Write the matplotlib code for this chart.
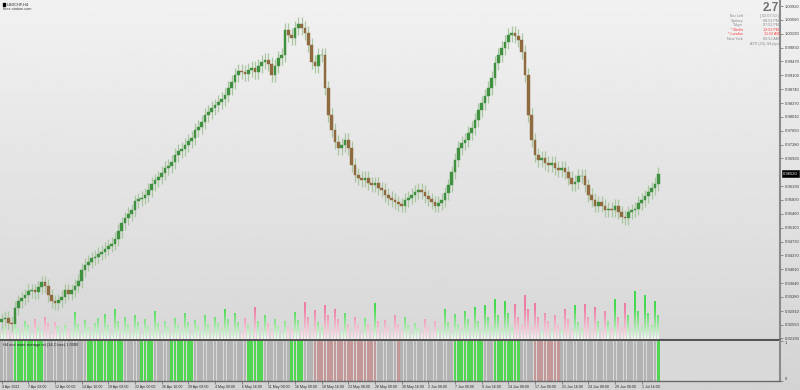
import numpy as np
import matplotlib
matplotlib.use("Agg")
import matplotlib.pyplot as plt
from matplotlib.colors import LinearSegmentedColormap
from matplotlib.path import Path

W, H = 800, 390
FONT = ["Liberation Sans", "DejaVu Sans"]

# ---------------- data (8-hour candles, USDCHF) ----------------
first_open = 0.9262
closes = [
    0.9269, 0.9272, 0.9259, 0.9256, 0.9298, 0.9316,
    0.9324, 0.9332, 0.9343, 0.9345, 0.9340, 0.9353,
    0.9366, 0.9356, 0.9332, 0.9316, 0.9311, 0.9319,
    0.9329, 0.9345, 0.9337, 0.9345, 0.9358, 0.9369,
    0.9398, 0.9413, 0.9421, 0.9429, 0.9434, 0.9442,
    0.9447, 0.9455, 0.9463, 0.9468, 0.9481, 0.9502,
    0.9521, 0.9534, 0.9545, 0.9555, 0.9579, 0.9584,
    0.9589, 0.9595, 0.9608, 0.9624, 0.9634, 0.9642,
    0.9653, 0.9666, 0.9671, 0.9682, 0.9700, 0.9711,
    0.9716, 0.9727, 0.9737, 0.9745, 0.9766, 0.9774,
    0.9787, 0.9805, 0.9813, 0.9824, 0.9831, 0.9839,
    0.9847, 0.9858, 0.9876, 0.9892, 0.9910, 0.9921,
    0.9918, 0.9913, 0.9924, 0.9929, 0.9918, 0.9934,
    0.9945, 0.9950, 0.9940, 0.9911, 0.9934, 0.9955,
    0.9963, 1.0029, 1.0016, 1.0008, 1.0034, 1.0045,
    1.0034, 1.0021, 0.9990, 0.9945, 0.9934, 0.9963,
    0.9963, 0.9876, 0.9805, 0.9766, 0.9734, 0.9719,
    0.9727, 0.9740, 0.9719, 0.9674, 0.9648, 0.9640,
    0.9634, 0.9640, 0.9626, 0.9621, 0.9626, 0.9613,
    0.9608, 0.9595, 0.9587, 0.9582, 0.9576, 0.9571,
    0.9568, 0.9582, 0.9589, 0.9595, 0.9603, 0.9608,
    0.9603, 0.9592, 0.9584, 0.9576, 0.9568, 0.9574,
    0.9582, 0.9600, 0.9621, 0.9655, 0.9687, 0.9719,
    0.9732, 0.9740, 0.9758, 0.9771, 0.9792, 0.9818,
    0.9837, 0.9855, 0.9876, 0.9903, 0.9942, 0.9963,
    0.9981, 0.9997, 1.0016, 1.0021, 1.0013, 1.0003,
    0.9971, 0.9910, 0.9805, 0.9740, 0.9700, 0.9687,
    0.9692, 0.9679, 0.9674, 0.9679, 0.9666, 0.9661,
    0.9666, 0.9655, 0.9640, 0.9624, 0.9629, 0.9645,
    0.9645, 0.9621, 0.9595, 0.9582, 0.9568, 0.9576,
    0.9568, 0.9555, 0.9560, 0.9555, 0.9568, 0.9550,
    0.9539, 0.9534, 0.9550, 0.9555, 0.9560, 0.9574,
    0.9582, 0.9592, 0.9603, 0.9613, 0.9624, 0.9652,
]
volumes = [
    6, 12, 9, 5, 15, 11,   7, 18, 14, 6, 20, 12,   8, 22, 16, 5, 17, 13,
    7, 14, 10, 9, 27, 15,  6, 19, 12, 8, 16, 21,   7, 25, 14, 6, 30, 18,
    9, 22, 15, 7, 24, 17,  5, 20, 13, 8, 28, 16,   6, 18, 12, 7, 21, 14,
    9, 26, 17, 6, 19, 13,  8, 24, 15, 7, 22, 16,   10, 30, 20, 8, 26, 17,
    6, 21, 14, 9, 32, 18,  7, 24, 16, 8, 20, 13,   6, 18, 12, 10, 27, 19,
    8, 37, 22, 9, 29, 17,  12, 34, 24, 10, 30, 20, 8, 26, 15, 7, 22, 14,
    6, 21, 15, 8, 36, 18,  7, 19, 12, 6, 24, 15,   8, 22, 14, 5, 16, 11,
    6, 20, 12, 7, 18, 10,  9, 30, 17, 6, 25, 15,   8, 28, 20, 10, 32, 18,
    9, 34, 22, 12, 40, 24, 10, 38, 26, 12, 35, 22, 14, 44, 30, 12, 36, 22,
    8, 26, 18, 7, 24, 14,  9, 30, 20, 8, 34, 17,   10, 35, 22, 9, 32, 18,
    8, 28, 18, 10, 40, 22, 12, 36, 24, 10, 48, 28, 12, 44, 26, 14, 38, 24,
]
# "one more average rsi" state runs: up / neutral / down
state_codes = ["n", "up", "n", "up", "n", "up", "n", "up", "n", "up", "n", "up",
               "n", "dn", "n", "dn", "n", "up", "n", "up", "n", "dn", "n", "up"]
state_lens = [4, 9, 13, 11, 5, 4, 5, 7, 16, 5, 8, 4,
              3, 19, 6, 1, 16, 9, 3, 8, 4, 8, 29, 1]

price_ticks = [1.00920, 1.00560, 1.00190, 0.99830, 0.99470, 0.99100, 0.98740,
               0.98370, 0.98010, 0.97650, 0.97280, 0.96920, 0.96190, 0.95830,
               0.95460, 0.95100, 0.94730, 0.94370, 0.94010, 0.93640, 0.93280,
               0.92910, 0.92550, 0.92190]
last_price = 0.96520

time_labels = ["4 Apr 2022", "7 Apr 08:00", "12 Apr 00:00", "14 Apr 16:00",
               "19 Apr 08:00", "22 Apr 00:00", "26 Apr 16:00", "29 Apr 08:00",
               "4 May 00:00", "6 May 16:00", "11 May 08:00", "16 May 00:00",
               "18 May 16:00", "23 May 08:00", "26 May 00:00", "30 May 16:00",
               "2 Jun 08:00", "7 Jun 00:00", "9 Jun 16:00", "14 Jun 08:00",
               "17 Jun 00:00", "21 Jun 16:00", "24 Jun 08:00", "29 Jun 00:00",
               "1 Jul 16:00"]
time_pos = list(range(0, 8 * len(time_labels), 8))

info_names = ["Bar Left", "Sydney", "Tokyo", "* Berlin", "* London", "New York"]
info_values = ["[ 02:07:50 ]", "08:52 PM", "07:52 PM", "12:52 PM", "11:52 AM", "06:52 AM"]
info_red = [False, False, False, True, True, False]


def fx(px):
    return px / W


def fy(py):
    return 1 - py / H


X_LO, X_HI = -0.5, 233.5          # 780 px of chart width
P_TOP, P_BOT = 1.01078, 0.92162   # price at y=0 px and y=339 px

fig = plt.figure(figsize=(W / 100, H / 100), dpi=100)

# background gradient
bg = fig.add_axes([0, 0, 1, 1], zorder=-10)
bg.imshow(np.linspace(0.945, 0.83, 256).reshape(-1, 1), aspect="auto",
          cmap="gray", vmin=0, vmax=1, extent=[0, 1, 0, 1])
bg.axis("off")

# ---------------- main price panel ----------------
ax = fig.add_axes([0, fy(339.5), fx(780), 339.5 / H])
ax.set_facecolor("none")
opens = [first_open] + closes[:-1]
o = np.array(opens)
c = np.array(closes)
x = np.arange(len(c))
lo = np.minimum(o, c)
hi = np.maximum(o, c)
up = c >= o
body_col = np.where(up, "#3f913f", "#8f6a3e")
ax.vlines(x, lo - 0.0018, hi + 0.0018, color="#a9c6a1", lw=0.9, zorder=2)
ax.bar(x, np.maximum(hi - lo, 0.00015), bottom=lo, width=0.72,
       color=body_col, edgecolor=body_col, lw=0.3, zorder=3)
ax.set_xlim(X_LO, X_HI)
ax.set_ylim(P_BOT, P_TOP)
ax.set_xticks([])
ax.yaxis.tick_right()
ax.set_yticks(price_ticks)
ax.set_yticklabels([f"{t:.5f}" for t in price_ticks], family=FONT)
ax.tick_params(axis="y", labelsize=3.0, length=2, width=0.5, pad=1.2,
               colors="#666666", labelcolor="#3a3a3a")
for s in ("top", "left"):
    ax.spines[s].set_visible(False)
ax.spines["right"].set_color("#8a8a8a")
ax.spines["right"].set_linewidth(1.5)
ax.spines["bottom"].set_color("#555555")
ax.spines["bottom"].set_linewidth(1.5)

# current price label
ax.annotate(f"{last_price:.5f}", xy=(1, last_price), xycoords=("axes fraction", "data"),
            xytext=(2.2, 0), textcoords="offset points", fontsize=3.0, family=FONT,
            color="white", va="center", ha="left",
            bbox=dict(boxstyle="square,pad=0.3", fc="black", ec="black", lw=0.4))

# ---------------- volumes (gradient bars) ----------------
vax = fig.add_axes([0, fy(339), fx(780), 55 / H])
vax.set_facecolor("none")
vax.axis("off")
v = np.array(volumes)


def bars_path(xs, hs, w=0.68):
    verts, codes = [], []
    for xi, hv in zip(xs, hs):
        verts += [(xi - w / 2, 0), (xi + w / 2, 0), (xi + w / 2, hv),
                  (xi - w / 2, hv), (xi - w / 2, 0)]
        codes += [Path.MOVETO, Path.LINETO, Path.LINETO, Path.LINETO, Path.CLOSEPOLY]
    return Path(verts, codes)


grad = np.linspace(0, 1, 256).reshape(-1, 1)
for mask, cols in [(up, ["#f2faf2", "#9ee8a2", "#48da52", "#40d84a"]),
                   (~up, ["#f8edf1", "#f2b6c9", "#ee7fa2", "#ec7a9e"])]:
    cmap = LinearSegmentedColormap.from_list("g", list(zip([0, 0.25, 0.55, 1], cols)))
    im = vax.imshow(grad, aspect="auto", cmap=cmap, origin="lower",
                    extent=[X_LO, X_HI, 0, 55], zorder=2)
    im.set_clip_path(bars_path(x[mask], v[mask]), transform=vax.transData)
vax.set_xlim(X_LO, X_HI)
vax.set_ylim(0, 55)

# ---------------- indicator panel ----------------
iax = fig.add_axes([0, fy(381), fx(780), 40.5 / H])
iax.set_facecolor("#d9d9d9")
states = np.repeat(state_codes, state_lens)
state_col = {"up": "#52d652", "n": "#b3b3b3", "dn": "#c29898"}
iax.bar(x, np.ones(len(x)), width=0.86, color=[state_col[s] for s in states],
        edgecolor="none", zorder=2)
iax.set_xlim(X_LO, X_HI)
iax.set_ylim(0, 1)
iax.yaxis.tick_right()
iax.set_yticks([0, 1])
iax.set_yticklabels(["0", "1"], family=FONT)
iax.tick_params(axis="y", labelsize=3.0, length=2, width=0.5, pad=1.2,
                colors="#666666", labelcolor="#3a3a3a")
iax.get_yticklabels()[0].set_va("bottom")
iax.get_yticklabels()[1].set_va("top")
iax.set_xticks(time_pos)
iax.set_xticklabels(time_labels, family=FONT)
iax.tick_params(axis="x", labelsize=2.6, length=2, width=0.5, pad=0.6,
                colors="#666666", labelcolor="#2a2a2a")
for lbl in iax.get_xticklabels():
    lbl.set_ha("left")
iax.spines["left"].set_visible(False)
iax.spines["top"].set_visible(False)
iax.spines["right"].set_color("#8a8a8a")
iax.spines["right"].set_linewidth(1.5)
iax.spines["bottom"].set_color("#6a6a6a")
iax.spines["bottom"].set_linewidth(1.0)
iax.text(0.004, 0.95, "H4 one more average rsi (14,Close) 1.0000",
         transform=iax.transAxes, fontsize=2.8, family=FONT, color="#222222",
         va="top", ha="left", zorder=5)

# ---------------- header texts ----------------
fig.patches.append(plt.Rectangle((fx(2.5), fy(6)), fx(2.8), 2.6 / H, color="black",
                                 transform=fig.transFigure, figure=fig))
fig.text(fx(7), fy(4.3), "USDCHF,H4", fontsize=2.8, family=FONT, color="#222222",
         va="center", ha="left")
fig.text(fx(3), fy(8.6), "forex-station.com", fontsize=2.8, family=FONT,
         color="#444444", va="center", ha="left")

fig.text(fx(779), fy(8), "2.7", fontsize=8.5, fontweight="bold", family=FONT,
         color="#6f6f6f", va="center", ha="right")
for k, (nm, val, red) in enumerate(zip(info_names, info_values, info_red)):
    yy = fy(16 + k * 4.6)
    col = "#ff3b3b" if red else "#8a8a8a"
    fig.text(fx(743), yy, nm, fontsize=2.7, family=FONT, color=col, va="center", ha="right")
    fig.text(fx(779), yy, val, fontsize=2.7, family=FONT, color=col, va="center", ha="right")
fig.text(fx(779), fy(16 + 6 * 4.6), "ATR (20): 84 pips", fontsize=2.7, family=FONT,
         color="#8a8a8a", va="center", ha="right")

fig.savefig("out.png", dpi=100)
